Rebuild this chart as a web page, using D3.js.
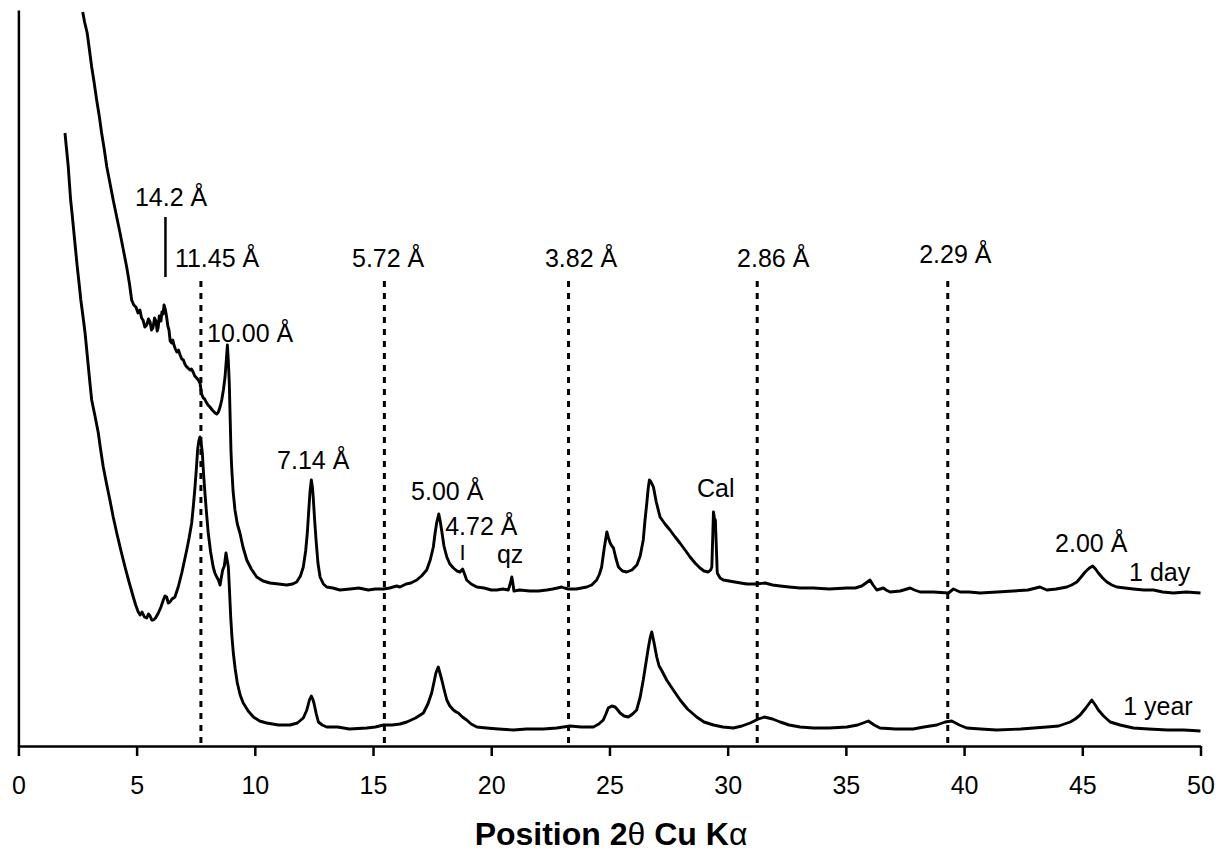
<!DOCTYPE html>
<html>
<head>
<meta charset="utf-8">
<script src="https://cdn.jsdelivr.net/npm/d3@7"></script>
<style>
  html, body { margin: 0; padding: 0; background: #fff; }
  svg { display: block; }
  text { font-family: "Liberation Sans", Arial, Helvetica, sans-serif; fill: #000; }
</style>
</head>
<body>
<div id="chart"></div>
<script>
// 2-theta tick values
const xTicks = [0, 5, 10, 15, 20, 25, 30, 35, 40, 45, 50];

// "1 day" pattern: [2theta, intensity (a.u.)]
const day1 = [
  [2.72,734],[2.80,724],[2.91,713],[3.00,697],[3.10,679],[3.20,664],[3.31,646],[3.42,630],[3.52,613],[3.63,597],
  [3.74,579],[3.88,562],[4.01,546],[4.15,530],[4.30,513],[4.44,496],[4.58,479],[4.70,462],[4.79,446],[4.88,441],
  [4.97,439],[5.06,433],[5.14,436],[5.21,428],[5.27,426],[5.35,419],[5.43,421],[5.50,427],[5.57,424],[5.63,416],
  [5.69,418],[5.76,428],[5.82,425],[5.87,415],[5.91,418],[5.96,430],[5.99,428],[6.03,425],[6.07,434],[6.12,432],
  [6.16,441],[6.22,436],[6.27,429],[6.32,420],[6.37,416],[6.42,405],[6.48,403],[6.53,406],[6.58,401],[6.64,397],
  [6.70,394],[6.77,396],[6.84,391],[6.91,387],[6.98,386],[7.04,382],[7.09,380],[7.17,378],[7.26,376],[7.32,377],
  [7.39,374],[7.46,370],[7.54,368],[7.61,366],[7.68,363],[7.75,352],[7.82,348],[7.88,347],[7.94,344],[8.02,341],
  [8.10,339],[8.20,336],[8.32,333],[8.39,332],[8.46,334],[8.53,339],[8.60,346],[8.67,356],[8.74,369],[8.80,388],
  [8.84,401],[8.88,385],[8.92,363],[8.96,325],[8.99,296],[9.02,279],[9.08,255],[9.16,236],[9.26,222],[9.37,213],
  [9.50,199],[9.66,186],[9.85,177],[10.08,169],[10.35,165],[10.64,163],[11.00,162],[11.35,161],[11.60,162],[11.77,164],
  [11.93,170],[12.05,179],[12.15,195],[12.22,213],[12.28,235],[12.33,253],[12.39,266],[12.44,258],[12.47,249],[12.53,226],
  [12.59,206],[12.67,183],[12.76,169],[12.90,162],[13.04,159],[13.30,158],[13.60,156],[14.03,157],[14.40,158],[14.80,156],
  [15.10,157],[15.44,157],[15.70,158],[16.00,160],[16.14,159],[16.40,162],[16.60,163],[16.85,166],[17.05,170],[17.27,176],
  [17.42,186],[17.55,199],[17.62,212],[17.69,223],[17.78,232],[17.84,225],[17.90,216],[18.00,200],[18.12,189],[18.25,182],
  [18.40,178],[18.55,175],[18.68,174],[18.79,177],[18.87,172],[18.96,166],[19.15,162],[19.39,159],[19.70,158],[20.00,156],
  [20.23,156],[20.50,157],[20.72,156],[20.80,162],[20.87,169],[20.92,162],[20.96,155],[21.20,156],[21.64,155],[22.00,155],
  [22.35,156],[22.60,157],[22.80,158],[22.98,159],[23.10,158],[23.26,157],[23.60,157],[24.04,159],[24.25,161],[24.46,166],
  [24.58,172],[24.67,179],[24.78,198],[24.89,214],[24.96,208],[25.03,203],[25.10,200],[25.17,198],[25.27,188],[25.38,179],
  [25.55,175],[25.73,174],[25.95,176],[26.16,181],[26.30,190],[26.43,206],[26.50,225],[26.58,243],[26.64,258],[26.69,266],
  [26.76,264],[26.86,259],[26.98,244],[27.14,229],[27.35,222],[27.56,216],[27.78,209],[27.98,203],[28.20,196],[28.41,189],
  [28.62,183],[28.83,178],[29.00,175],[29.18,174],[29.28,176],[29.33,179],[29.37,210],[29.40,234],[29.44,228],[29.48,226],
  [29.52,200],[29.56,173],[29.68,168],[29.82,166],[30.30,164],[30.81,162],[31.20,162],[31.58,163],[31.90,161],[32.22,160],
  [32.60,159],[33.06,158],[33.62,158],[34.30,157],[35.04,158],[35.40,158],[35.67,160],[35.85,163],[36.02,166],[36.15,161],
  [36.31,156],[36.45,157],[36.58,158],[36.70,156],[36.87,154],[37.30,155],[37.72,158],[37.90,156],[38.14,154],[38.70,154],
  [39.34,153],[39.55,157],[39.83,154],[40.20,154],[40.68,153],[41.40,154],[42.09,155],[42.70,156],[43.21,159],[43.50,156],
  [43.90,157],[44.35,159],[44.55,161],[44.77,164],[44.95,169],[45.12,174],[45.30,178],[45.44,180],[45.56,177],[45.68,173],
  [45.86,168],[46.04,164],[46.25,161],[46.46,159],[46.80,158],[47.16,157],[47.60,156],[48.01,156],[48.40,154],[48.85,153],
  [49.40,154],[50.00,153]
];

// "1 year" pattern: [2theta, intensity (a.u.)]
const year1 = [
  [1.97,613],[2.04,596],[2.11,579],[2.16,562],[2.21,546],[2.28,530],[2.35,513],[2.42,496],[2.49,479],[2.57,462],
  [2.64,446],[2.73,430],[2.82,413],[2.89,396],[2.96,379],[3.03,362],[3.10,346],[3.24,330],[3.38,313],[3.48,296],
  [3.59,279],[3.73,262],[3.87,246],[4.01,229],[4.16,213],[4.33,196],[4.51,179],[4.68,164],[4.86,149],[4.96,141],
  [5.07,134],[5.15,131],[5.23,134],[5.33,129],[5.43,128],[5.50,132],[5.57,130],[5.64,126],[5.71,126],[5.80,128],
  [5.92,133],[6.03,139],[6.13,146],[6.20,150],[6.27,149],[6.34,143],[6.41,144],[6.50,147],[6.62,149],[6.76,159],
  [6.91,173],[7.02,185],[7.12,196],[7.22,208],[7.33,223],[7.40,240],[7.47,259],[7.53,278],[7.58,296],[7.63,305],
  [7.68,309],[7.73,303],[7.78,293],[7.83,273],[7.89,253],[7.96,232],[8.03,213],[8.13,194],[8.24,179],[8.31,173],
  [8.39,169],[8.46,166],[8.53,161],[8.58,168],[8.64,176],[8.71,180],[8.78,193],[8.83,186],[8.88,179],[8.93,155],
  [8.98,129],[9.03,110],[9.09,93],[9.17,77],[9.26,63],[9.38,51],[9.51,43],[9.72,35],[9.94,29],[10.20,25],
  [10.50,23],[11.00,21],[11.49,21],[11.80,23],[12.05,28],[12.20,36],[12.31,46],[12.39,50],[12.45,47],[12.50,43],
  [12.60,32],[12.69,24],[12.85,21],[13.04,19],[13.50,19],[14.00,17],[14.73,18],[15.10,19],[15.44,21],[15.80,21],
  [16.14,22],[16.43,24],[16.80,28],[17.13,33],[17.32,42],[17.48,53],[17.58,64],[17.66,73],[17.76,79],[17.83,73],
  [17.91,66],[18.00,57],[18.12,46],[18.25,40],[18.40,36],[18.52,34],[18.61,33],[18.78,29],[18.96,26],[19.15,22],
  [19.39,19],[19.80,18],[20.30,17],[20.93,16],[21.50,17],[22.20,17],[22.77,18],[23.05,19],[23.33,20],[23.80,19],
  [24.32,19],[24.55,22],[24.74,26],[24.85,32],[24.95,38],[25.10,40],[25.24,39],[25.35,36],[25.45,33],[25.62,30],
  [25.80,29],[25.98,32],[26.15,36],[26.30,49],[26.43,66],[26.55,84],[26.65,99],[26.72,108],[26.79,114],[26.88,104],
  [27.00,89],[27.10,80],[27.20,76],[27.42,66],[27.70,56],[27.99,46],[28.30,37],[28.69,29],[29.00,24],[29.40,21],
  [29.80,19],[30.24,18],[30.60,20],[30.95,23],[31.30,27],[31.55,29],[31.90,27],[32.22,24],[32.60,21],[33.06,19],
  [33.62,18],[34.30,18],[35.04,19],[35.50,21],[35.95,25],[36.20,21],[36.44,18],[37.10,17],[37.85,17],[38.30,19],
  [38.84,21],[39.20,24],[39.48,25],[39.80,21],[40.11,18],[40.70,17],[41.38,16],[42.40,17],[43.50,19],[44.00,20],
  [44.49,24],[44.70,27],[44.91,31],[45.15,38],[45.40,46],[45.55,41],[45.68,36],[45.90,30],[46.18,24],[46.60,21],
  [47.16,18],[47.80,17],[48.60,16],[49.30,16],[50.00,15]
];

// reference d-spacings drawn as dotted lines (2theta)
const refLines = [7.72, 15.48, 23.27, 31.25, 39.31];
const refTop = 465;

// annotation labels: [text, 2theta, intensity, font size]
const labels = [
  ["14.2 \u00C5", 4.93, 540, 25],
  ["11.45 \u00C5", 6.62, 479, 25],
  ["5.72 \u00C5", 14.11, 479, 25],
  ["3.82 \u00C5", 22.27, 479, 25],
  ["2.86 \u00C5", 30.40, 479, 25],
  ["2.29 \u00C5", 38.10, 483, 25],
  ["10.00 \u00C5", 7.98, 404, 25],
  ["7.14 \u00C5", 10.94, 277, 25],
  ["5.00 \u00C5", 16.61, 246, 25],
  ["4.72 \u00C5", 18.05, 211, 25],
  ["I", 18.66, 186, 22],
  ["qz", 20.24, 183, 25],
  ["Cal", 28.70, 249, 25],
  ["2.00 \u00C5", 43.85, 194, 25],
  ["1 day", 46.98, 165, 25],
  ["1 year", 46.73, 31, 25]
];

// solid marker for the 14.2 Å reflection: [2theta, from, to]
const marker142 = [6.22, 469, 529];

const W = 1229, H = 857;
const margin = { top: 10, right: 28.5, bottom: 111, left: 18.4 };

const svg = d3.select("#chart").append("svg")
  .attr("width", W)
  .attr("height", H);

const x = d3.scaleLinear()
  .domain([0, 50])
  .range([margin.left, W - margin.right]);

const y = d3.scaleLinear()
  .domain([0, 736])
  .range([H - margin.bottom, margin.top]);

// dotted reference lines
svg.append("g")
  .selectAll("line")
  .data(refLines)
  .join("line")
  .attr("x1", d => x(d)).attr("x2", d => x(d))
  .attr("y1", y(refTop)).attr("y2", y(0))
  .attr("stroke", "#000")
  .attr("stroke-width", 3)
  .attr("stroke-dasharray", "6,6");

// 14.2 Å marker
svg.append("line")
  .attr("x1", x(marker142[0])).attr("x2", x(marker142[0]))
  .attr("y1", y(marker142[1])).attr("y2", y(marker142[2]))
  .attr("stroke", "#000")
  .attr("stroke-width", 2.5);

// patterns
const line = d3.line()
  .x(d => x(d[0]))
  .y(d => y(d[1]));

svg.selectAll("path.trace")
  .data([day1, year1])
  .join("path")
  .attr("class", "trace")
  .attr("d", line)
  .attr("fill", "none")
  .attr("stroke", "#000")
  .attr("stroke-width", 2.9)
  .attr("stroke-linejoin", "round");

// axes
const xAxis = svg.append("g")
  .attr("transform", `translate(0,${y(0)})`)
  .call(d3.axisBottom(x).tickValues(xTicks).tickSize(10).tickSizeOuter(0).tickPadding(20).tickFormat(d3.format("d")));
xAxis.select(".domain").attr("stroke-width", 2.5);
xAxis.selectAll(".tick line").attr("stroke-width", 2.5);
xAxis.selectAll(".tick text")
  .attr("font-size", 25)
  .attr("font-family", "'Liberation Sans', Arial, sans-serif");

const yAxis = svg.append("g")
  .attr("transform", `translate(${x(0)},0)`)
  .call(d3.axisLeft(y).tickValues([]).tickSizeOuter(0));
yAxis.select(".domain").attr("stroke-width", 2.5);

// labels
svg.append("g")
  .selectAll("text")
  .data(labels)
  .join("text")
  .attr("x", d => x(d[1]))
  .attr("y", d => y(d[2]))
  .attr("font-size", d => d[3])
  .text(d => d[0]);

// axis title
const title = svg.append("text")
  .attr("x", 611)
  .attr("y", 845)
  .attr("text-anchor", "middle")
  .attr("font-size", 32)
  .attr("font-weight", "bold");
title.append("tspan").text("Position 2");
title.append("tspan").attr("font-weight", "normal").text("θ");
title.append("tspan").text(" Cu K");
title.append("tspan").attr("font-weight", "normal").text("α");
</script>
</body>
</html>
